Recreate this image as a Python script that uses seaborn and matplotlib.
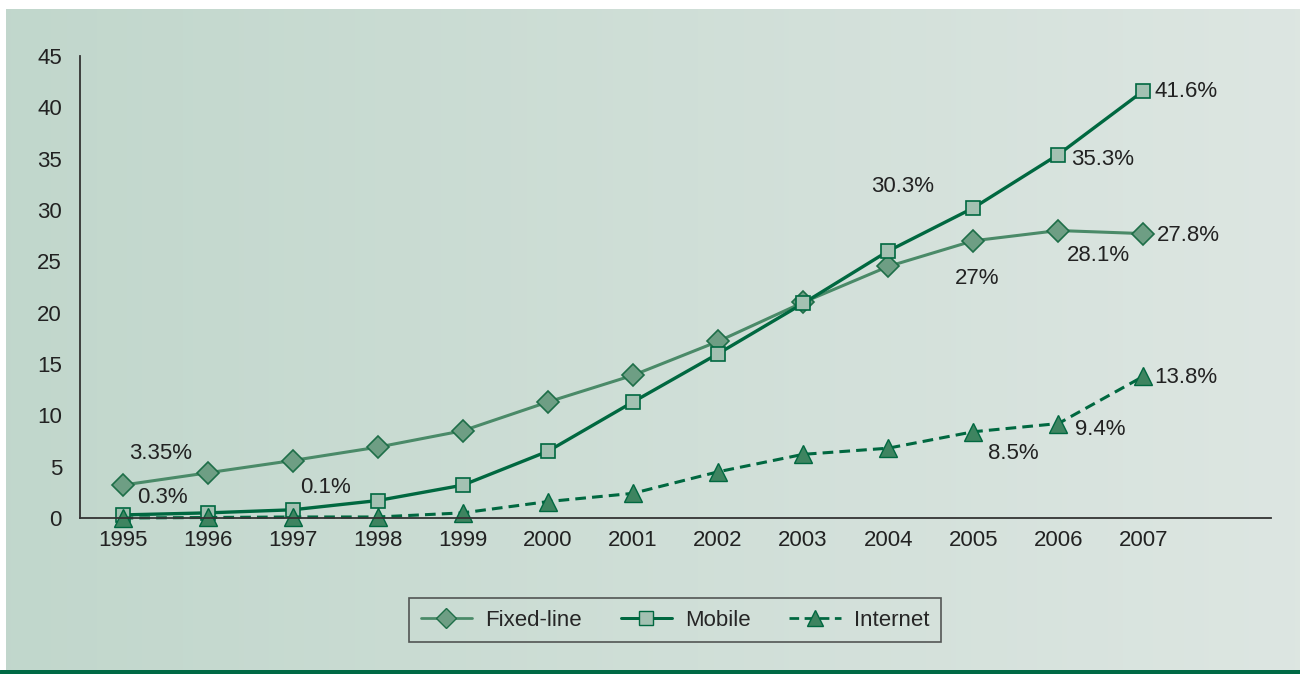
import numpy as np
import pandas as pd
import matplotlib
matplotlib.use("Agg")
import matplotlib.pyplot as plt
import seaborn as sns
from matplotlib.lines import Line2D

years = ["1995", "1996", "1997", "1998", "1999", "2000", "2001",
         "2002", "2003", "2004", "2005", "2006", "2007"]
fixed_line = [3.2, 4.4, 5.6, 6.9, 8.5, 11.3, 13.9, 17.2, 21.0, 24.5, 27.0, 28.0, 27.7]
mobile = [0.3, 0.5, 0.8, 1.7, 3.2, 6.5, 11.3, 16.0, 20.9, 26.0, 30.2, 35.4, 41.6]
internet = [0.0, 0.05, 0.1, 0.1, 0.5, 1.6, 2.4, 4.5, 6.2, 6.8, 8.4, 9.2, 13.8]
y_ticks = [0, 5, 10, 15, 20, 25, 30, 35, 40, 45]

# annotations: (series, year index, text, dx px, dy px, ha)
annotations = [
    ("fixed", 0, "3.35%", 38, 32, "center"),
    ("mobile", 0, "0.3%", 40, 17, "center"),
    ("internet", 2, "0.1%", 33, 29, "center"),
    ("mobile", 10, "30.3%", -71, 21, "center"),
    ("fixed", 10, "27%", 4, -38, "center"),
    ("fixed", 11, "28.1%", 40, -25, "center"),
    ("fixed", 12, "27.8%", 13, -2, "left"),
    ("mobile", 11, "35.3%", 13, -5, "left"),
    ("mobile", 12, "41.6%", 11, -1, "left"),
    ("internet", 12, "13.8%", 11, -1, "left"),
    ("internet", 11, "9.4%", 17, -6, "left"),
    ("internet", 10, "8.5%", 40, -22, "center"),
]

sns.set_style("white")
plt.rcParams["font.family"] = ["Liberation Sans", "DejaVu Sans"]

FS = 16
W, H = 1300, 674
fig = plt.figure(figsize=(W / 100, H / 100), dpi=100)
fig.patch.set_facecolor("white")

# gradient background
bg = fig.add_axes([6 / W, 4 / H, 1 - 6 / W, (665 - 4) / H])
bg.set_axis_off()
c_left = np.array([0.757, 0.843, 0.800])
c_right = np.array([0.867, 0.902, 0.886])
t = np.linspace(0, 1, 256)[None, :, None]
grad = c_left[None, None, :] * (1 - t) + c_right[None, None, :] * t
bg.imshow(grad, aspect="auto", extent=[0, 1, 0, 1])
bar = fig.add_axes([0, 0, 1, 4 / H])
bar.set_axis_off()
bar.add_patch(plt.Rectangle((0, 0), 1, 1, color="#006a45", transform=bar.transAxes))

ax = fig.add_axes([80 / W, 1 - 518 / H, (1271 - 80) / W, (518 - 56) / H])
ax.patch.set_alpha(0)

x = np.arange(len(years))
df = pd.DataFrame({"x": x, "fixed": fixed_line, "mobile": mobile, "internet": internet})

styles = {
    "fixed": dict(color="#4a8a68", marker="D", markersize=11, markerfacecolor="#6e9e84",
                  markeredgecolor="#1e6e48", markeredgewidth=1.2, linewidth=2.2, linestyle="-"),
    "mobile": dict(color="#006840", marker="s", markersize=10.5, markerfacecolor="#a3c1b2",
                   markeredgecolor="#006840", markeredgewidth=1.2, linewidth=2.4, linestyle="-"),
    "internet": dict(color="#006840", marker="^", markersize=13, markerfacecolor="#3e8460",
                     markeredgecolor="#006840", markeredgewidth=1.0, linewidth=2.2,
                     linestyle=(0, (3.5, 2))),
}
labels = {"fixed": "Fixed-line", "mobile": "Mobile", "internet": "Internet"}

for key in ["fixed", "mobile", "internet"]:
    st = styles[key]
    sns.lineplot(data=df, x="x", y=key, ax=ax, color=st["color"], linewidth=st["linewidth"],
                 linestyle=st["linestyle"], marker=st["marker"], markersize=st["markersize"],
                 markerfacecolor=st["markerfacecolor"], markeredgecolor=st["markeredgecolor"],
                 markeredgewidth=st["markeredgewidth"], legend=False, clip_on=False)

ax.set_xlim(-0.5, 13.5)
ax.set_ylim(0, 45)
ax.set_xlabel("")
ax.set_ylabel("")
ax.set_yticks(y_ticks)
ax.set_yticklabels([str(v) for v in y_ticks], fontsize=FS, color="#222222")
ax.set_xticks(x)
ax.set_xticklabels(years, fontsize=FS, color="#222222")
ax.set_xticks(np.arange(-0.5, 14.0, 1.0), minor=True)
ax.tick_params(axis="x", which="major", length=0, pad=9)
ax.tick_params(axis="x", which="minor", length=8, width=1.2, color="#333333", direction="out")
ax.tick_params(axis="y", which="major", length=8, width=1.2, color="#333333", direction="out", pad=5)
for s in ["top", "right"]:
    ax.spines[s].set_visible(False)
for s in ["left", "bottom"]:
    ax.spines[s].set_color("#333333")
    ax.spines[s].set_linewidth(1.3)

series = {"fixed": fixed_line, "mobile": mobile, "internet": internet}
for key, i, txt, dx, dy, ha in annotations:
    ax.annotate(txt, xy=(x[i], series[key][i]), xytext=(dx * 0.72, dy * 0.72),
                textcoords="offset points", ha=ha, va="center", fontsize=FS,
                color="#222222", annotation_clip=False)

handles = []
for key in ["fixed", "mobile", "internet"]:
    st = styles[key]
    handles.append(Line2D([], [], color=st["color"], linewidth=st["linewidth"] * 0.9,
                          linestyle=st["linestyle"], marker=st["marker"],
                          markersize=st["markersize"] * 0.9,
                          markerfacecolor=st["markerfacecolor"],
                          markeredgecolor=st["markeredgecolor"], label=labels[key]))
leg = fig.legend(handles=handles, loc="center", bbox_to_anchor=(675 / W, 1 - 620 / H),
                 ncol=3, frameon=True, fontsize=FS, fancybox=False, handlelength=2.3,
                 columnspacing=1.75, handletextpad=0.6, borderpad=0.5, borderaxespad=0)
leg.get_frame().set_edgecolor("#333333")
leg.get_frame().set_facecolor("none")
leg.get_frame().set_linewidth(1.2)

fig.savefig("out.png", dpi=100)
